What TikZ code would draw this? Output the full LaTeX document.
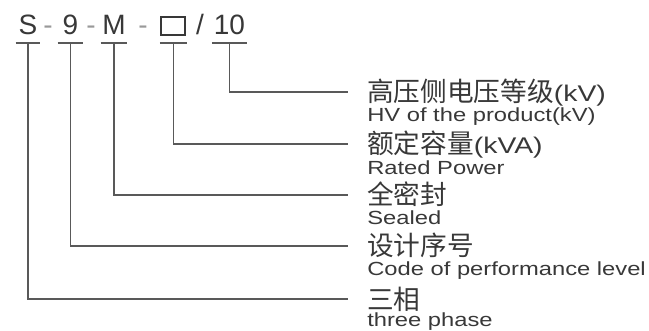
\documentclass[tikz,border=0pt]{standalone}
\usepackage{fontspec}
\setmainfont{Liberation Sans}
\newfontfamily\engfont[FakeStretch=1.25]{Liberation Sans}
\newfontfamily\cjk{Noto Sans CJK SC}
\usepackage{tikz}
\usepackage{xcolor}
\usetikzlibrary{positioning}
\definecolor{txtgray}{rgb}{0.22, 0.22, 0.22}
\definecolor{linegray}{rgb}{0.35, 0.35, 0.35}
\definecolor{dashgray}{rgb}{0.6, 0.6, 0.6}
\newcommand{\unit}[1]{{\engfont\fontsize{17}{17}\selectfont #1}}
\tikzstyle{tok}=[anchor=south,inner sep=0,text height=16pt,text depth=6pt,
text=txtgray,font=\fontsize{21}{21}\selectfont]
\tikzstyle{sep}=[anchor=base,inner sep=0,text=dashgray,font=\fontsize{21}{21}\selectfont]
\tikzstyle{cn}=[anchor=west,inner sep=0,text height=15pt,text depth=0pt,
text=txtgray,font=\cjk\fontsize{20}{20}\selectfont]
\tikzstyle{en}=[anchor=base west,inner sep=0,text=txtgray,
font=\engfont\fontsize{14.25}{14.25}\selectfont]
\tikzstyle{conn}=[line width=1.4pt,draw=linegray,shorten >=14pt]

\begin{document}
\begin{tikzpicture}[x=0.75pt,y=-0.75pt]
\useasboundingbox (0,0) rectangle (649,331);

\node [tok,minimum width=18pt] (0) at (28,43) {S};
\node [tok,minimum width=19pt] (1) at (70.5,43) {9};
\node [tok,minimum width=19.5pt] (2) at (114,43) {M};
\node [tok,minimum width=20pt] (3) at (173.5,43) {};
\node [tok,minimum width=26pt] (4) at (229.5,43) {10};

\node [draw=txtgray,line width=1.1pt,minimum width=18pt,minimum height=13.5pt,inner sep=0] (3b) at (173,26) {};

\node [sep] (0s) at (48,35) {-};
\node [sep] (1s) at (91,35) {-};
\node [sep] (2s) at (143,35) {-};
\node [sep,text=txtgray] (3s) at (200,35) {/};

\foreach \n in {0,...,4}
  \draw [line width=1.4pt,linegray] (\n.south west) -- (\n.south east);

\node [cn] (4c) at (367,92) {高压侧电压等级\unit{(kV)}};
\node [en] (4e) at (367,122) {HV of the product(kV)};
\node [cn] (3c) at (367,144) {额定容量\unit{(kVA)}};
\node [en] (3e) at (367,175) {Rated Power};
\node [cn] (2c) at (367,195) {全密封};
\node [en] (2e) at (367,225) {Sealed};
\node [cn] (1c) at (367,246) {设计序号};
\node [en] (1e) at (367,275) {Code of performance level};
\node [cn] (0c) at (367,299) {三相};
\node [en] (0e) at (367,326) {three phase};

\draw [conn] (4.south) |- (4c.west);
\draw [conn] (3.south) |- (3c.west);
\draw [conn] (2.south) |- (2c.west);
\draw [conn] (1.south) |- (1c.west);
\draw [conn] (0.south) |- (0c.west);

\end{tikzpicture}
\end{document}
